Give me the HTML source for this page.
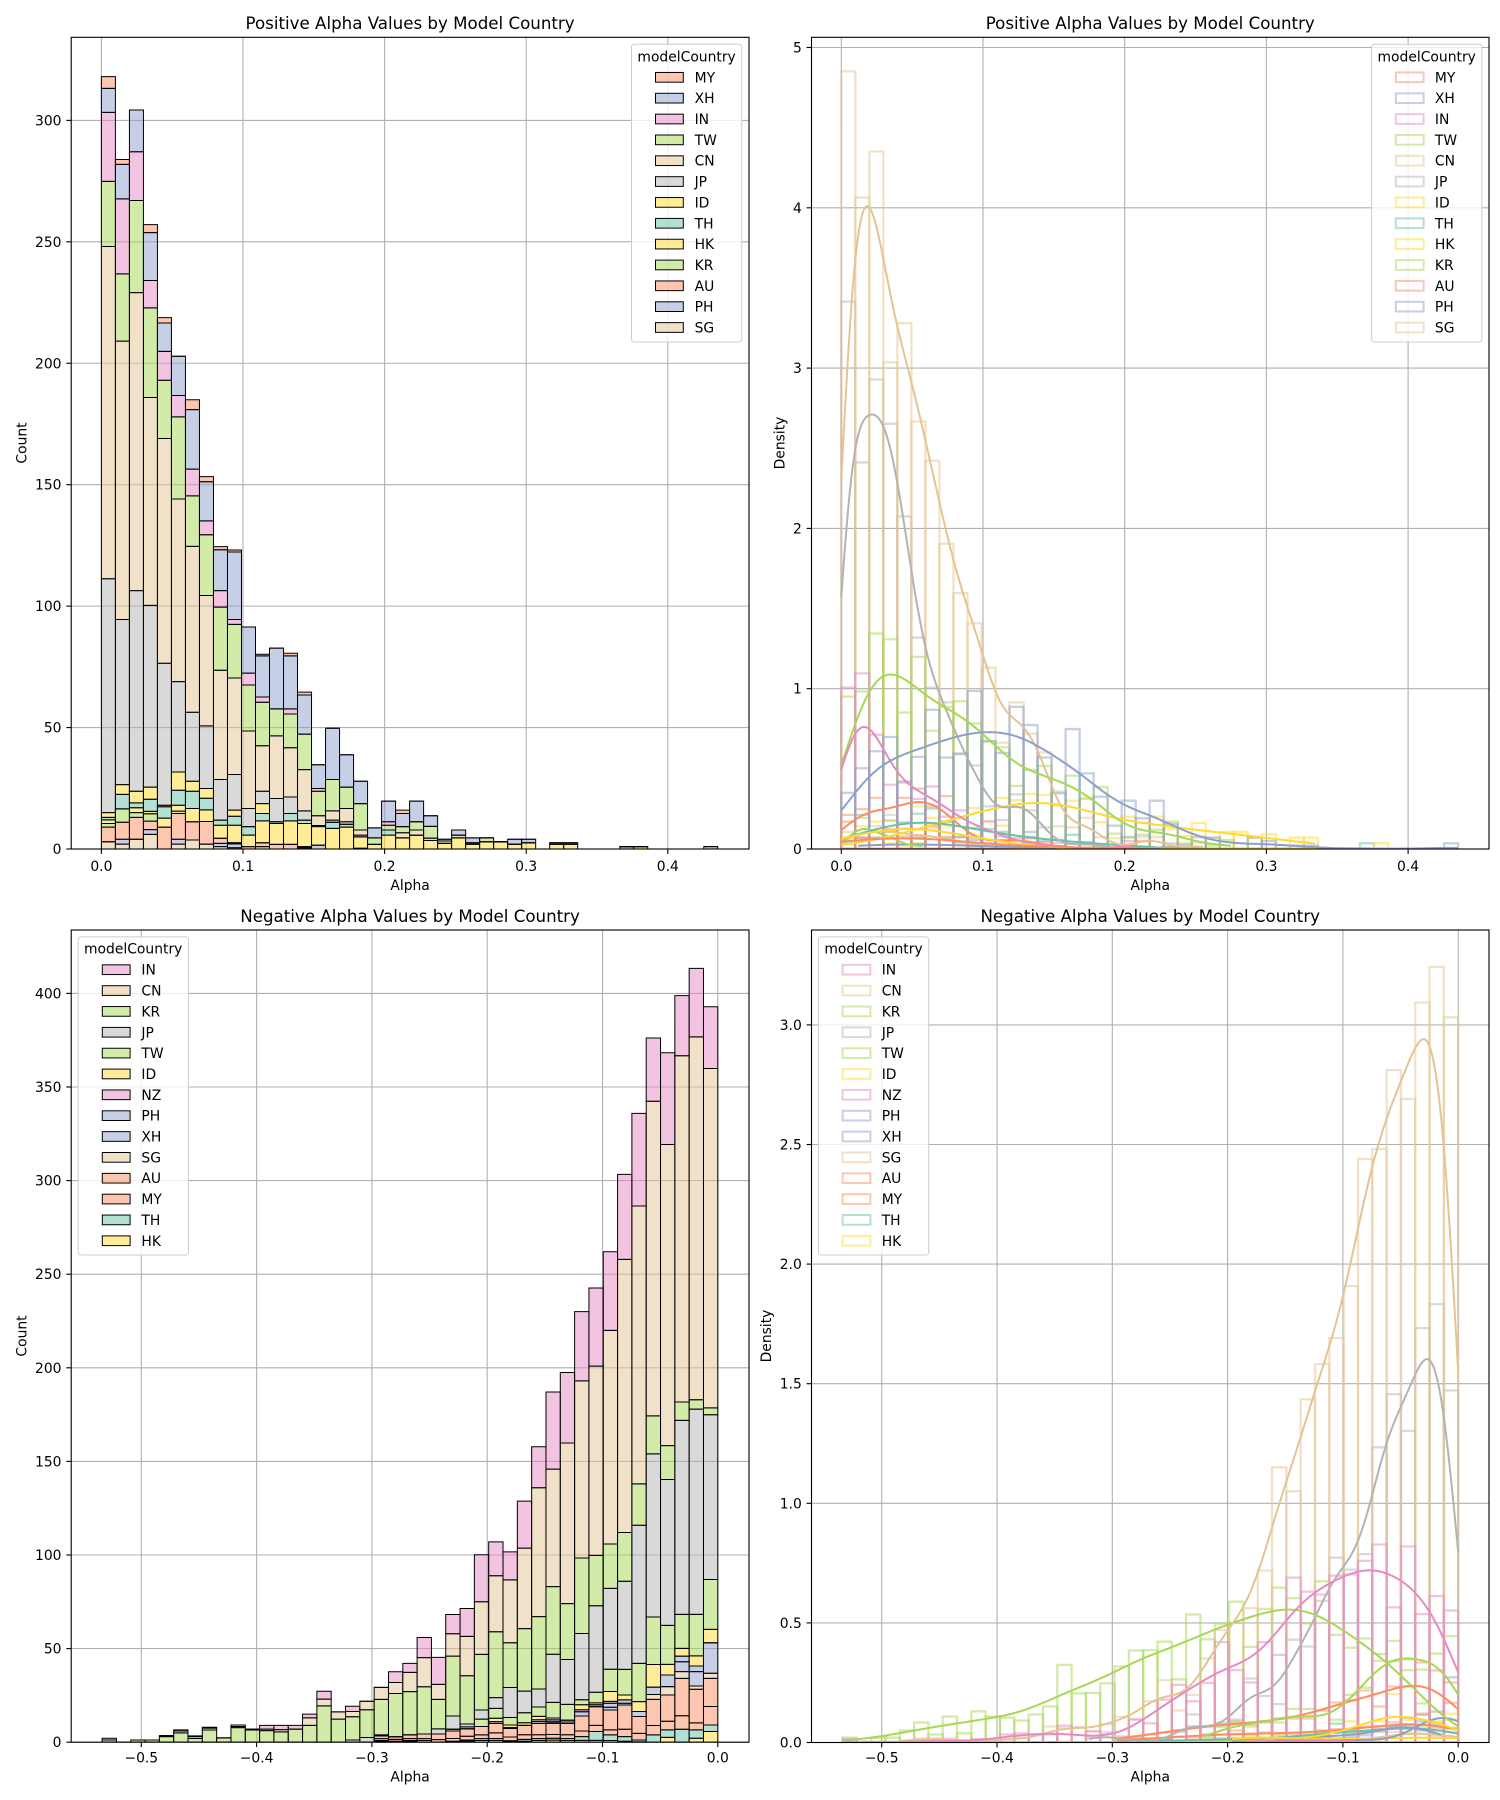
<!DOCTYPE html>
<html><head><meta charset="utf-8"><style>
html,body{margin:0;padding:0;background:#fff;}
svg{display:block;}
text{font-family:"DejaVu Sans","Liberation Sans",sans-serif;fill:#000;}
.tk{font-size:13.89px;}
.ti{font-size:16.67px;}
</style></head><body>
<svg id="root" xmlns="http://www.w3.org/2000/svg" width="1500" height="1800" viewBox="0 0 1500 1800">
<rect x="0" y="0" width="1500" height="1800" fill="#fff"/>
<defs>
<clipPath id="c_tl"><rect x="71.2" y="37.3" width="677.8" height="811.7"/></clipPath>
<clipPath id="c_tr"><rect x="811.5" y="37.3" width="677.5" height="811.7"/></clipPath>
<clipPath id="c_bl"><rect x="71.2" y="930" width="677.8" height="812.2"/></clipPath>
<clipPath id="c_br"><rect x="811.5" y="930" width="677.5" height="812.5"/></clipPath>
</defs>
<g id="grid"></g>
<g id="d_tl" clip-path="url(#c_tl)"></g>
<g id="d_tr" clip-path="url(#c_tr)"></g>
<g id="d_bl" clip-path="url(#c_bl)"></g>
<g id="d_br" clip-path="url(#c_br)"></g>
<g id="axes"></g>
<g id="leg"></g>

<!-- Titles -->
<text class="ti" x="410.1" y="29" text-anchor="middle">Positive Alpha Values by Model Country</text>
<text class="ti" x="1150.25" y="29" text-anchor="middle">Positive Alpha Values by Model Country</text>
<text class="ti" x="410.1" y="922" text-anchor="middle">Negative Alpha Values by Model Country</text>
<text class="ti" x="1150.25" y="922" text-anchor="middle">Negative Alpha Values by Model Country</text>

<!-- Axis labels -->
<text class="tk" x="410.1" y="890" text-anchor="middle">Alpha</text>
<text class="tk" x="1150.25" y="890" text-anchor="middle">Alpha</text>
<text class="tk" x="410.1" y="1781.7" text-anchor="middle">Alpha</text>
<text class="tk" x="1150.25" y="1781.7" text-anchor="middle">Alpha</text>
<text class="tk" transform="translate(26.5,443) rotate(-90)" text-anchor="middle">Count</text>
<text class="tk" transform="translate(784.5,443) rotate(-90)" text-anchor="middle">Density</text>
<text class="tk" transform="translate(26.5,1336) rotate(-90)" text-anchor="middle">Count</text>
<text class="tk" transform="translate(771,1336) rotate(-90)" text-anchor="middle">Density</text>

<!-- TL ticks -->
<g class="tk" text-anchor="end">
<text x="61.5" y="854">0</text>
<text x="61.5" y="732.6">50</text>
<text x="61.5" y="611.1">100</text>
<text x="61.5" y="489.7">150</text>
<text x="61.5" y="368.3">200</text>
<text x="61.5" y="246.8">250</text>
<text x="61.5" y="125.4">300</text>
</g>
<g class="tk" text-anchor="middle">
<text x="101.4" y="871">0.0</text>
<text x="243.0" y="871">0.1</text>
<text x="384.6" y="871">0.2</text>
<text x="526.2" y="871">0.3</text>
<text x="667.8" y="871">0.4</text>
</g>
<!-- TR ticks -->
<g class="tk" text-anchor="end">
<text x="801.8" y="854">0</text>
<text x="801.8" y="693.7">1</text>
<text x="801.8" y="533.4">2</text>
<text x="801.8" y="373.1">3</text>
<text x="801.8" y="212.8">4</text>
<text x="801.8" y="52.5">5</text>
</g>
<g class="tk" text-anchor="middle">
<text x="841.3" y="871">0.0</text>
<text x="983.0" y="871">0.1</text>
<text x="1124.7" y="871">0.2</text>
<text x="1266.4" y="871">0.3</text>
<text x="1408.1" y="871">0.4</text>
</g>
<!-- BL ticks -->
<g class="tk" text-anchor="end">
<text x="61.5" y="1747.2">0</text>
<text x="61.5" y="1653.6">50</text>
<text x="61.5" y="1560">100</text>
<text x="61.5" y="1466.4">150</text>
<text x="61.5" y="1372.8">200</text>
<text x="61.5" y="1279.2">250</text>
<text x="61.5" y="1185.6">300</text>
<text x="61.5" y="1092">350</text>
<text x="61.5" y="998.4">400</text>
</g>
<g class="tk" text-anchor="middle">
<text x="141.3" y="1762.4">−0.5</text>
<text x="256.6" y="1762.4">−0.4</text>
<text x="371.9" y="1762.4">−0.3</text>
<text x="487.2" y="1762.4">−0.2</text>
<text x="602.5" y="1762.4">−0.1</text>
<text x="717.8" y="1762.4">0.0</text>
</g>
<!-- BR ticks -->
<g class="tk" text-anchor="end">
<text x="801.8" y="1747.5">0.0</text>
<text x="801.8" y="1627.9">0.5</text>
<text x="801.8" y="1508.3">1.0</text>
<text x="801.8" y="1388.7">1.5</text>
<text x="801.8" y="1269.1">2.0</text>
<text x="801.8" y="1149.5">2.5</text>
<text x="801.8" y="1029.9">3.0</text>
</g>
<g class="tk" text-anchor="middle">
<text x="881.7" y="1762.4">−0.5</text>
<text x="997.0" y="1762.4">−0.4</text>
<text x="1112.3" y="1762.4">−0.3</text>
<text x="1227.6" y="1762.4">−0.2</text>
<text x="1342.9" y="1762.4">−0.1</text>
<text x="1458.2" y="1762.4">0.0</text>
</g>

<!-- Legend texts TL -->
<g class="tk">
<text x="686.6" y="61.5" text-anchor="middle">modelCountry</text>
<text x="694.6" y="82.3">MY</text>
<text x="694.6" y="103.15">XH</text>
<text x="694.6" y="124">IN</text>
<text x="694.6" y="144.85">TW</text>
<text x="694.6" y="165.7">CN</text>
<text x="694.6" y="186.55">JP</text>
<text x="694.6" y="207.4">ID</text>
<text x="694.6" y="228.25">TH</text>
<text x="694.6" y="249.1">HK</text>
<text x="694.6" y="269.95">KR</text>
<text x="694.6" y="290.8">AU</text>
<text x="694.6" y="311.65">PH</text>
<text x="694.6" y="332.5">SG</text>
</g>
<!-- Legend texts TR -->
<g class="tk">
<text x="1426.7" y="61.5" text-anchor="middle">modelCountry</text>
<text x="1434.9" y="82.3">MY</text>
<text x="1434.9" y="103.15">XH</text>
<text x="1434.9" y="124">IN</text>
<text x="1434.9" y="144.85">TW</text>
<text x="1434.9" y="165.7">CN</text>
<text x="1434.9" y="186.55">JP</text>
<text x="1434.9" y="207.4">ID</text>
<text x="1434.9" y="228.25">TH</text>
<text x="1434.9" y="249.1">HK</text>
<text x="1434.9" y="269.95">KR</text>
<text x="1434.9" y="290.8">AU</text>
<text x="1434.9" y="311.65">PH</text>
<text x="1434.9" y="332.5">SG</text>
</g>
<!-- Legend texts BL -->
<g class="tk">
<text x="133.2" y="953.3" text-anchor="middle">modelCountry</text>
<text x="141.4" y="974.7">IN</text>
<text x="141.4" y="995.55">CN</text>
<text x="141.4" y="1016.4">KR</text>
<text x="141.4" y="1037.25">JP</text>
<text x="141.4" y="1058.1">TW</text>
<text x="141.4" y="1078.95">ID</text>
<text x="141.4" y="1099.8">NZ</text>
<text x="141.4" y="1120.65">PH</text>
<text x="141.4" y="1141.5">XH</text>
<text x="141.4" y="1162.35">SG</text>
<text x="141.4" y="1183.2">AU</text>
<text x="141.4" y="1204.05">MY</text>
<text x="141.4" y="1224.9">TH</text>
<text x="141.4" y="1245.75">HK</text>
</g>
<!-- Legend texts BR -->
<g class="tk">
<text x="873.5" y="953.3" text-anchor="middle">modelCountry</text>
<text x="881.7" y="974.7">IN</text>
<text x="881.7" y="995.55">CN</text>
<text x="881.7" y="1016.4">KR</text>
<text x="881.7" y="1037.25">JP</text>
<text x="881.7" y="1058.1">TW</text>
<text x="881.7" y="1078.95">ID</text>
<text x="881.7" y="1099.8">NZ</text>
<text x="881.7" y="1120.65">PH</text>
<text x="881.7" y="1141.5">XH</text>
<text x="881.7" y="1162.35">SG</text>
<text x="881.7" y="1183.2">AU</text>
<text x="881.7" y="1204.05">MY</text>
<text x="881.7" y="1224.9">TH</text>
<text x="881.7" y="1245.75">HK</text>
</g>
</svg>
<script>
(function(){
var NS='http://www.w3.org/2000/svg';
function mk(p,tag,at){var e=document.createElementNS(NS,tag);for(var k in at)e.setAttribute(k,at[k]);p.appendChild(e);return e;}
var COL={TH:'#66c2a5',MY:'#fc8d62',AU:'#fc8d62',XH:'#8da0cb',PH:'#8da0cb',IN:'#e78ac3',NZ:'#e78ac3',TW:'#a6d854',KR:'#a6d854',ID:'#ffd92f',HK:'#ffd92f',CN:'#e5c494',SG:'#e5c494',JP:'#b3b3b3'};
function arr(n,o){var a=[],i;for(i=0;i<n;i++)a.push(0);if(Array.isArray(o)){for(i=0;i<o.length;i++)a[i]=o[i];}else{for(var k in o)a[+k]=o[k];}return a;}
var PN=44,PBW=0.4353/44,PE0=0;
var NN=43,NBW=0.534/43,NE0=-0.534;
var POS={
MY:arr(PN,[4.8,2,0,3.3,2.2,0,4.1,2.1,1.3,0.8,0,0.7,0,1.1,1.2,0,0,0,0,0,0,1.4]),
XH:arr(PN,[9.9,14.2,17.2,19.7,11.7,16.2,24.5,16.1,16.8,27.8,19,16.9,25,21.8,16.1,9.8,21.1,13.3,9.2,4.1,8.5,5.4,8.5,4.4,0.7,2.1,2,0,0,2,1.4,0,0.6,0.6,0,0,0,0,0,0,0,0,0,1]),
IN:arr(PN,[28.4,30.9,20.1,11.3,11.9,8.8,11,5.7,6.8,2,4.9,2.2,0,2.1,0,1.1,0,0,0,0,1.4]),
TW:arr(PN,[26.8,27.7,37.9,36.9,24,33.8,20.8,25,26,22.1,18.9,17.9,11.1,13.9,14.6,10.1,12.9,8.8,10.9,2.7,2,2.5,3.4,4.8,1,0,0.6,1.6]),
CN:arr(PN,[136.8,114.6,122.7,85.6,92.5,75.2,68.3,53.7,45,39.7,31.9,18.7,25.8,20.3,17,4,3.8,5.5,2.1,0,0,2.1,2.1,0,0,1.1]),
JP:arr(PN,[96.3,68,82.6,74.8,58.5,37.2,28.4,25.8,16.7,14.7,7.5,5.1,9.6,6.8,3.8,0,0.9,1,0.7,0,0,0,0,1]),
ID:arr(PN,{0:2,1:4,2:4.8,3:5,4:0.6,5:7.5,6:4.1,7:4,9:2.5,11:4.1,38:1}),
TH:arr(PN,{0:1,1:6,2:2,3:5,4:4.7,5:6.2,6:7.1,7:4.8,8:2.1,9:3.7,10:3.5,11:3,12:0.7,13:3,14:1.4,15:0.5,16:2.5,17:1.2,20:2.1,37:1}),
HK:arr(PN,[1.5,0,2,1,3.7,2.4,5.5,4.8,5.4,7.2,4.7,9,8.6,9.7,9.5,7.6,8.5,9,4.7,1.9,5.7,4.6,5.7,3.5,2.3,4.6,2,3,3,2,2.6,0,2,2]),
KR:arr(PN,[1.5,5.5,2,3,0,1]),
AU:arr(PN,[6,7,9,3.5,9,10.6,7.5,9.3,2.1,0.5,1,1.6,1.9,1.9,0.5,0,0,0,0.3]),
PH:arr(PN,{1:2,3:2,5:2,8:1.3,9:1.6,15:1.6}),
SG:arr(PN,{0:3,1:2,2:4,3:6,5:2,6:3.7,7:2,8:1,9:0.5,11:1,14:0.5})
};
var NEG={
IN:arr(NN,{0:.9,5:.6,6:.4,7:.5,9:.8,11:2,12:2.3,13:2,14:2,15:4.2,17:2.8,20:5.7,21:4.8,22:10.7,23:14.4,24:10.3,25:14.9,26:25.1,27:18.1,28:15,29:25.1,30:21.9,31:41.2,32:37.7,33:37,34:41.7,35:42,36:45.4,37:49.5,38:33.8,39:49,40:32.1,41:36.6,42:33}),
CN:arr(NN,[0,0,0,0,0.5,1,1,1,0,0.6,0.5,0.8,1.2,0,4,3.6,3.9,2.8,4.6,6.4,5.9,10.3,15.6,8,11.9,21,28.1,29.9,33.6,43,68.8,62.8,85.8,94.6,101.1,114.1,145.9,148.4,168.1,160.9,185,193.9,181.3]),
KR:arr(NN,[1.2,0,1.2,1.2,3,5,2,6.5,2.3,7.8,6.5,6.2,5.5,7,9,19.4,12.3,12.4,14.8,19,23,23.1,25.2,15.8,32,25.8,29.7,35.2,23.9,33.4,38.7,36.1,29.8,40.3,26.9,23.7,26,22.1,20.3,18.1,9.8,5,3.7]),
JP:arr(NN,{17:1.2,18:2.5,19:.5,23:2.7,24:7,25:1.5,26:4.9,27:5.7,28:16,29:11.6,30:9.6,31:25.7,32:24,33:35.4,34:46.2,35:43.2,36:47.1,37:73.8,38:87.1,39:77.9,40:103.6,41:109.6,42:88}),
TW:arr(NN,{25:1,26:3.9,27:5.3,28:4,29:5.3,30:5,31:8.4,32:8.4,33:2.7,34:5.7,35:11.9,36:13.7,37:20.4,38:25.4,39:20.8,40:18.2,41:22.2,42:26.6}),
ID:arr(NN,{27:1.8,28:1.4,29:1.4,30:1.8,33:2.7,34:1,35:5.3,36:2.6,37:5.3,38:12.1,39:5.7,40:4.1,41:5.4,42:7.2}),
NZ:arr(NN,{28:.5,30:1,31:1,33:1,35:1}),
PH:arr(NN,{30:1,31:1,32:1,33:2.3,34:1,35:2.1,36:1.8,37:2.7,38:3.9,39:6.2,40:3,41:3}),
XH:arr(NN,{27:1,31:.8,32:.8,35:1.5,36:.9,40:5.3,41:7.7,42:16.3}),
SG:arr(NN,{24:1,38:2.6,39:4.5,40:3.6,41:1.7,42:2.7}),
AU:arr(NN,{19:1.5,20:1.5,21:2,22:2.5,23:3,24:4,25:4,26:4.5,27:5,28:4.5,29:5,30:6,31:6,32:6,33:8,34:10,35:10.6,36:13,37:9,38:14,39:14,40:20,41:18,42:15}),
MY:arr(NN,{19:1,20:1,21:1,22:1,23:1.4,24:1.5,25:2,26:2,27:3,28:2,29:2.5,30:2,31:2,32:2,33:3,34:3.3,35:2.7,36:3.9,37:3.5,38:5,39:4.6,40:7.2,41:3.7,42:9.9}),
TH:arr(NN,{19:.4,20:.5,21:.5,22:.9,24:.5,25:.5,26:1,27:1,28:.5,29:1,30:1,31:1,32:1,33:2,34:4.7,35:3,36:2.5,37:1,38:3.9,39:4,40:6.9,41:4.5,42:3.5}),
HK:arr(NN,{19:.5,21:.4,25:.7,26:.9,27:1,28:.3,29:.5,30:1,31:1.1,32:1,33:1,34:1,35:.9,36:.5,37:.2,39:2.6,41:2.1,42:5.7})
};
var PORD=['MY','XH','IN','TW','CN','JP','ID','TH','HK','KR','AU','PH','SG'];
var NORD=['IN','CN','KR','JP','TW','ID','NZ','PH','XH','SG','AU','MY','TH','HK'];
var PAN={
tl:{ax:[71.2,37.3,749,849],x0:101.4,sx:1416,y0:849,sy:2.4287,xt:[0,.1,.2,.3,.4],yt:[0,50,100,150,200,250,300]},
tr:{ax:[811.5,37.3,1489,849],x0:841.3,sx:1417,y0:849,sy:160.3,xt:[0,.1,.2,.3,.4],yt:[0,1,2,3,4,5]},
bl:{ax:[71.2,930,749,1742.2],x0:717.8,sx:1153,y0:1742.2,sy:1.872,xt:[-.5,-.4,-.3,-.2,-.1,0],yt:[0,50,100,150,200,250,300,350,400]},
br:{ax:[811.5,930,1489,1742.5],x0:1458.2,sx:1153,y0:1742.5,sy:239.2,xt:[-.5,-.4,-.3,-.2,-.1,0],yt:[0,.5,1,1.5,2,2.5,3]}
};
var grid=document.getElementById('grid'),axes=document.getElementById('axes'),leg=document.getElementById('leg');
function f(v){return Math.round(v*100)/100;}
for(var key in PAN){
 var p=PAN[key],a=p.ax,i;
 for(i=0;i<p.xt.length;i++){var x=f(p.x0+p.xt[i]*p.sx);
  mk(grid,'line',{x1:x,x2:x,y1:a[1],y2:a[3],stroke:'#b0b0b0','stroke-width':1.1});
  mk(axes,'line',{x1:x,x2:x,y1:a[3],y2:a[3]+4.9,stroke:'#000','stroke-width':1.1});}
 for(i=0;i<p.yt.length;i++){var y=f(p.y0-p.yt[i]*p.sy);
  mk(grid,'line',{x1:a[0],x2:a[2],y1:y,y2:y,stroke:'#b0b0b0','stroke-width':1.1});
  mk(axes,'line',{x1:a[0]-4.9,x2:a[0],y1:y,y2:y,stroke:'#000','stroke-width':1.1});}
 mk(axes,'rect',{x:a[0],y:a[1],width:f(a[2]-a[0]),height:f(a[3]-a[1]),fill:'none',stroke:'#000','stroke-width':1.1});
}
function stack(p,g,D,ord,n,e0,bw){
 var bot=ord.slice().reverse();
 for(var i=0;i<n;i++){var cum=0;var xl=f(p.x0+(e0+i*bw)*p.sx),xr=f(p.x0+(e0+(i+1)*bw)*p.sx);
  for(var j=0;j<bot.length;j++){var c=bot[j],v=D[c][i];var yb=f(p.y0-cum*p.sy),yt=f(p.y0-(cum+v)*p.sy);
   mk(g,'path',{d:'M'+xl+','+yb+'V'+yt+'H'+xr+'V'+yb+'Z',fill:COL[c],'fill-opacity':0.5,stroke:'#000','stroke-width':1});cum+=v;}}
}
function dens(p,g,D,ord,n,e0,bw,K){
 var o=ord.slice().reverse();
 for(var j=0;j<o.length;j++){var c=o[j];
  for(var i=0;i<n;i++){var v=D[c][i]/K;var xl=f(p.x0+(e0+i*bw)*p.sx),xr=f(p.x0+(e0+(i+1)*bw)*p.sx);
   var yb=f(p.y0),yt=f(p.y0-v*p.sy);
   mk(g,'path',{d:'M'+xl+','+yb+'V'+yt+'H'+xr+'V'+yb+'Z',fill:'none',stroke:COL[c],'stroke-opacity':0.5,'stroke-width':2.3});}}
}
function kde(p,g,D,ord,n,e0,bw,K){
 var o=ord.slice().reverse();
 for(var j=0;j<o.length;j++){var c=o[j],a=D[c],N=0,m=0,i;
  for(i=0;i<n;i++){N+=a[i];m+=a[i]*(e0+(i+0.5)*bw);}
  if(N<2)continue;m/=N;var v=0;
  for(i=0;i<n;i++){var d=e0+(i+0.5)*bw-m;v+=a[i]*d*d;}
  v=v/(N-1)+bw*bw/12;var h=Math.sqrt(v)*Math.pow(N,-0.2);
  var i0=-1,i1=-1;for(i=0;i<n;i++){if(a[i]>0){if(i0<0)i0=i;i1=i;}}
  var lo=e0+i0*bw+(i0==0?0:0.2*bw),hi=e0+(i1+1)*bw-(i1==n-1?0:0.2*bw);
  var pts=[];
  for(var k=0;k<200;k++){var x=lo+(hi-lo)*k/199,s=0;
   for(i=0;i<n;i++){if(a[i]>0){var z=(x-(e0+(i+0.5)*bw))/h;s+=a[i]*Math.exp(-0.5*z*z);}}
   var y=s/(h*Math.sqrt(2*Math.PI))*bw/K;
   pts.push(f(p.x0+x*p.sx)+','+f(p.y0-y*p.sy));}
  mk(g,'polyline',{points:pts.join(' '),fill:'none',stroke:COL[c],'stroke-width':2,'stroke-linejoin':'round','stroke-linecap':'butt'});
 }
}
stack(PAN.tl,document.getElementById('d_tl'),POS,PORD,PN,PE0,PBW);
stack(PAN.bl,document.getElementById('d_bl'),NEG,NORD,NN,NE0,NBW);
var gtr=document.getElementById('d_tr'),gbr=document.getElementById('d_br');
dens(PAN.tr,gtr,POS,PORD,PN,PE0,PBW,28.2);
kde(PAN.tr,gtr,POS,PORD,PN,PE0,PBW,28.2);
dens(PAN.br,gbr,NEG,NORD,NN,NE0,NBW,59.8);
kde(PAN.br,gbr,NEG,NORD,NN,NE0,NBW,59.8);
function legend(bx,by,h,hx,ord,y1,filled){
 mk(leg,'rect',{x:bx,y:by,width:110.3,height:h,rx:2.8,ry:2.8,fill:'#fff','fill-opacity':0.8,stroke:'#cccccc','stroke-width':1});
 for(var k=0;k<ord.length;k++){var yc=y1+20.85*k,c=ord[k];
  if(filled)mk(leg,'rect',{x:hx,y:f(yc-4.85),width:27.8,height:9.7,fill:COL[c],'fill-opacity':0.5,stroke:'#000','stroke-width':1});
  else mk(leg,'rect',{x:hx,y:f(yc-4.85),width:27.8,height:9.7,fill:'none',stroke:COL[c],'stroke-opacity':0.5,'stroke-width':2});}
}
legend(631.5,44.2,297.8,655.5,PORD,77.3,true);
legend(1371.6,44.2,297.8,1395.8,PORD,77.3,false);
legend(78.1,936.9,318.1,102.3,NORD,969.7,true);
legend(818.4,936.9,318.1,842.6,NORD,969.7,false);
})();
</script>
</body></html>
